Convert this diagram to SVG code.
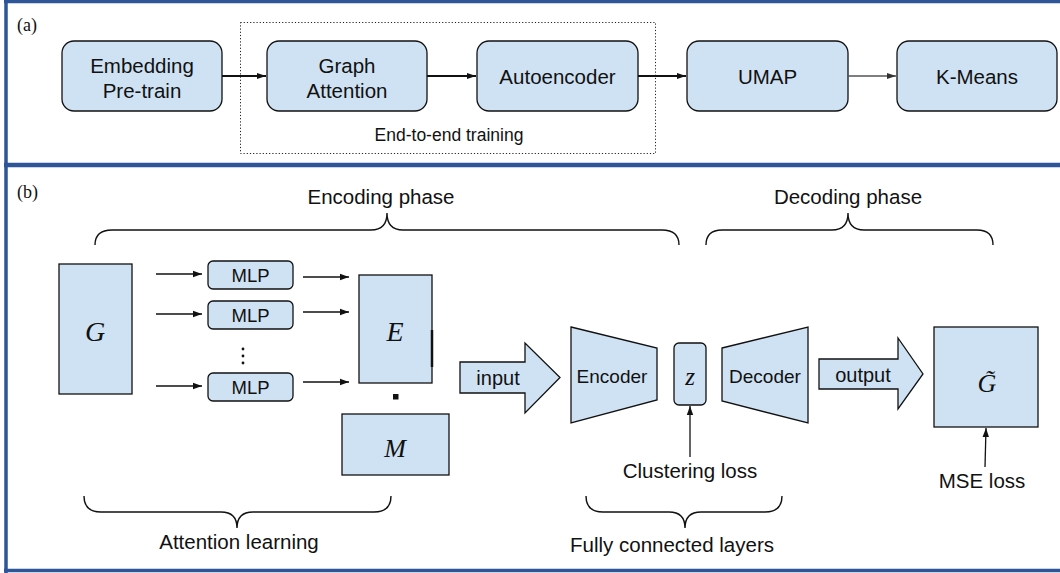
<svg xmlns="http://www.w3.org/2000/svg" width="1060" height="573" viewBox="0 0 1060 573">
<defs>
<style>
.frame{fill:none;stroke:#2e5597;stroke-width:3.5}
.box{fill:#cfe2f3;stroke:#111;stroke-width:1.3}
.t{font-family:"Liberation Sans",Arial,sans-serif;fill:#111;text-anchor:middle}
.lbl{font-family:"Liberation Serif","Times New Roman",serif;fill:#111;font-size:18px}
.math{font-family:"Liberation Serif","Times New Roman",serif;font-style:italic;fill:#111;text-anchor:middle}
.brace{fill:none;stroke:#111;stroke-width:1.4}
.ca{fill:none;stroke:#111;stroke-width:2;marker-end:url(#ah)}
.cg{fill:none;stroke:#555;stroke-width:1.3;marker-end:url(#ahg)}
.cb{fill:none;stroke:#111;stroke-width:1.3;marker-end:url(#ahb)}
</style>
<marker id="ah" markerUnits="userSpaceOnUse" markerWidth="10" markerHeight="8" refX="9" refY="4" orient="auto"><path d="M0,1 L9,4 L0,7 Z" fill="#111"/></marker>
<marker id="ahg" markerUnits="userSpaceOnUse" markerWidth="10" markerHeight="8" refX="9" refY="4" orient="auto"><path d="M0,1 L9,4 L0,7 Z" fill="#333"/></marker>
<marker id="ahb" markerUnits="userSpaceOnUse" markerWidth="10" markerHeight="8" refX="9" refY="4" orient="auto"><path d="M0,0.8 L9,4 L0,7.2 Z" fill="#111"/></marker>
</defs>
<rect width="1060" height="573" fill="#fff"/>
<g id="frame">
<line class="frame" x1="4" y1="1.5" x2="1060" y2="1.5"/>
<line class="frame" x1="6" y1="0" x2="6" y2="573"/>
<line class="frame" x1="4" y1="165" x2="1060" y2="165" style="stroke-width:4.5"/>
<line class="frame" x1="4" y1="570.5" x2="1060" y2="570.5"/>
</g>
<text class="lbl" x="17" y="31">(a)</text>
<text class="lbl" x="17" y="198">(b)</text>
<g id="e2e">
<rect x="240.5" y="22.5" width="415" height="131" fill="none" stroke="#222" stroke-width="1" stroke-dasharray="1.2,2"/>
<text class="t" x="449" y="141" style="font-size:17.5px">End-to-end training</text>
</g>
<g id="embed"><rect class="box" x="62" y="41" width="160" height="70" rx="12"/><text class="t" x="142" y="73" style="font-size:20.5px">Embedding</text><text class="t" x="142" y="98" style="font-size:20.5px">Pre-train</text></g>
<g id="graphatt"><rect class="box" x="267" y="41" width="160" height="70" rx="12"/><text class="t" x="347" y="73" style="font-size:20.5px">Graph</text><text class="t" x="347" y="98" style="font-size:20.5px">Attention</text></g>
<g id="autoenc"><rect class="box" x="477" y="41" width="161" height="70" rx="12"/><text class="t" x="557.5" y="84" style="font-size:20.5px">Autoencoder</text></g>
<g id="umap"><rect class="box" x="687" y="41" width="161" height="70" rx="12"/><text class="t" x="767.5" y="84" style="font-size:20.5px">UMAP</text></g>
<g id="kmeans"><rect class="box" x="897" y="41" width="160" height="70" rx="12"/><text class="t" x="977" y="84" style="font-size:20.5px">K-Means</text></g>
<g id="braces">
<path class="brace" d="M95,245 Q95,230 112,230 L371,230 Q387,230 387,213 Q387,230 403,230 L662,230 Q679,230 679,245"/>
<text class="t" x="381" y="204" style="font-size:20.5px">Encoding phase</text>
<path class="brace" d="M706,245 Q706,230 722,230 L832,230 Q848,230 848,213 Q848,230 864,230 L977,230 Q993,230 993,245"/>
<text class="t" x="848" y="204" style="font-size:20.5px">Decoding phase</text>
<path class="brace" d="M84,496 Q84,512 101,512 L221,512 Q237,512 237,528 Q237,512 253,512 L374,512 Q391,512 391,496"/>
<text class="t" x="239" y="549" style="font-size:20.5px">Attention learning</text>
<path class="brace" d="M586,496 Q586,512 603,512 L669,512 Q685,512 685,528 Q685,512 701,512 L765,512 Q782,512 782,496"/>
<text class="t" x="672" y="552" style="font-size:20.5px">Fully connected layers</text>
</g>
<g id="G"><rect class="box" x="59" y="264" width="73" height="130"/><text class="math" x="95" y="341" style="font-size:28px">G</text></g>
<g id="mlp1"><rect class="box" x="208" y="261" width="85" height="28" rx="5"/><text class="t" x="250.5" y="282" style="font-size:18.5px">MLP</text></g>
<g id="mlp2"><rect class="box" x="208" y="301" width="85" height="28" rx="5"/><text class="t" x="250.5" y="322" style="font-size:18.5px">MLP</text></g>
<g id="dots"><circle cx="243" cy="349" r="1.4" fill="#111"/><circle cx="243" cy="356" r="1.4" fill="#111"/><circle cx="243" cy="363" r="1.4" fill="#111"/></g>
<g id="mlp3"><rect class="box" x="208" y="373" width="85" height="28" rx="5"/><text class="t" x="250.5" y="394" style="font-size:18.5px">MLP</text></g>
<g id="E"><rect class="box" x="359" y="275" width="73" height="108"/><line x1="432" y1="330" x2="432" y2="367" stroke="#111" stroke-width="2.5"/><text class="math" x="395" y="341" style="font-size:28px">E</text></g>
<g id="dot"><rect x="393" y="394" width="5.5" height="5.5" fill="#111"/></g>
<g id="M"><rect class="box" x="342" y="414" width="107" height="61"/><text class="math" x="395" y="457" style="font-size:26px">M</text></g>
<g id="input"><polygon class="box" points="460,362 525,362 525,343 560,377.5 525,413 525,393 460,393"/><text class="t" x="498" y="385" style="font-size:20px">input</text></g>
<g id="encoder"><polygon class="box" points="571,327 657,348 657,400 571,423"/><text class="t" x="612" y="383" style="font-size:19px">Encoder</text></g>
<g id="z"><rect class="box" x="674" y="343" width="32" height="62" rx="5"/><text class="math" x="690" y="385" style="font-size:25px">z</text></g>
<g id="decoder"><polygon class="box" points="722,348 808,327 808,423 722,401"/><text class="t" x="765" y="383" style="font-size:19px">Decoder</text></g>
<g id="output"><polygon class="box" points="819,359 898,359 898,338 923,374 898,409 898,389 819,389"/><text class="t" x="863" y="382" style="font-size:20px">output</text></g>
<g id="Gt"><rect class="box" x="934" y="327" width="104" height="100"/><text class="math" x="987" y="392" style="font-size:26px">G&#x303;</text></g>
<g id="losses">
<text class="t" x="690" y="478" style="font-size:20.5px">Clustering loss</text>
<text class="t" x="982" y="488" style="font-size:20.5px">MSE loss</text>
</g>
<g id="connectors">
<line class="ca" x1="222" y1="76" x2="266" y2="76"/>
<line class="ca" x1="427" y1="76" x2="476" y2="76"/>
<line class="ca" x1="638" y1="76" x2="686" y2="76"/>
<line class="cg" x1="848" y1="76" x2="896" y2="76"/>
<line class="cb" x1="156" y1="274" x2="202" y2="274"/>
<line class="cb" x1="156" y1="314" x2="202" y2="314"/>
<line class="cb" x1="156" y1="386" x2="202" y2="386"/>
<line class="cb" x1="303" y1="277" x2="349" y2="277"/>
<line class="cb" x1="303" y1="312" x2="349" y2="312"/>
<line class="cb" x1="303" y1="382" x2="349" y2="382"/>
<line class="cb" x1="690" y1="457" x2="690" y2="406"/>
<line class="cb" x1="985" y1="467" x2="986" y2="428"/>
</g>
</svg>
